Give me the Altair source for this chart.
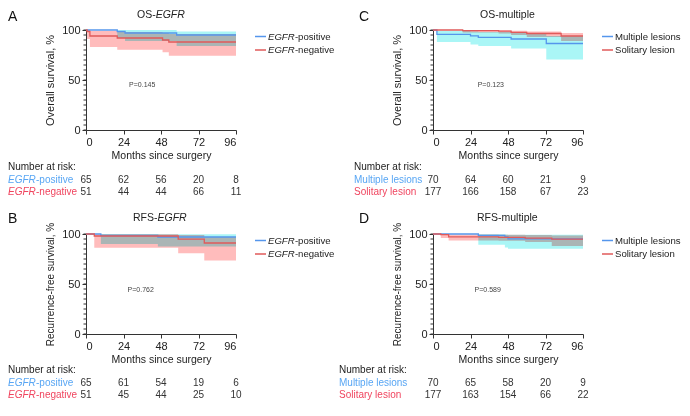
import altair as alt
import pandas as pd

FONT = "Liberation Sans"
BLUE = "#5596ec"
RED = "#e05a5a"
CYAN = "#aaf6f6"
PINK = "#ffbcbc"
LBLUE = "#58a6f4"
LRED = "#f0455f"
INK = "#222222"

months_ticks = [0, 24, 48, 72, 96]
y_major = [0, 50, 100]
y_minor = list(range(0, 101, 5))

# ---- Panel A: OS-EGFR ----
a_pos_t = [0, 20, 25, 58, 96]
a_pos_s = [100, 98.5, 97, 95, 95]
a_pos_lo = [100, 92, 89, 84, 84]
a_pos_hi = [100, 100, 100, 98.5, 98.5]
a_neg_t = [0, 0.7, 2.5, 20, 49, 53, 96]
a_neg_s = [100, 98.5, 94, 92, 90, 88, 88]
a_neg_lo = [100, 91, 83, 80.3, 77.7, 74.3, 74.3]
a_neg_hi = [100, 100, 99, 98, 97, 96, 96]
a_risk_pos = [65, 62, 56, 20, 8]
a_risk_neg = [51, 44, 44, 66, 11]

# ---- Panel C: OS-multiple ----
c_mul_t = [0, 2.5, 24, 29, 50, 72.5, 96]
c_mul_s = [100, 95.7, 94.2, 92.7, 91, 86.5, 86.5]
c_mul_lo = [100, 88, 85.5, 84, 81.5, 70.5, 70.5]
c_mul_hi = [100, 99, 98.5, 98, 97, 94, 94]
c_sol_t = [0, 19, 42, 50, 60, 82, 96]
c_sol_s = [100, 99.4, 98.8, 97.6, 96.5, 94, 94]
c_sol_lo = [100, 97.5, 96.5, 95, 93, 89, 89]
c_sol_hi = [100, 100, 99.7, 99.2, 98.5, 97, 97]
c_risk_mul = [70, 64, 60, 21, 9]
c_risk_sol = [177, 166, 158, 67, 23]

# ---- Panel B: RFS-EGFR ----
b_pos_t = [0, 9.5, 46, 96]
b_pos_s = [100, 98.5, 97, 97]
b_pos_lo = [100, 90, 87.5, 87.5]
b_pos_hi = [100, 100, 99.8, 99.8]
b_neg_t = [0, 5.3, 59, 75.7, 96]
b_neg_s = [100, 98, 94.8, 91, 91]
b_neg_lo = [100, 86.3, 80.8, 73.4, 73.4]
b_neg_hi = [100, 99.7, 99, 97, 97]
b_risk_pos = [65, 61, 54, 19, 6]
b_risk_neg = [51, 45, 44, 25, 10]

# ---- Panel D: RFS-multiple ----
d_mul_t = [0, 29, 46, 48, 96]
d_mul_s = [100, 98.6, 97, 95.2, 95.2]
d_mul_lo = [100, 89.3, 86.5, 85.3, 85.3]
d_mul_hi = [100, 99.8, 99.6, 99.3, 99.3]
d_sol_t = [0, 5, 10, 42, 59, 76, 96]
d_sol_s = [100, 99.4, 97.2, 96.6, 95.8, 94.8, 94.8]
d_sol_lo = [100, 96, 93.5, 93.3, 92, 88, 88]
d_sol_hi = [100, 100, 99.5, 99.2, 99, 98.5, 98.5]
d_risk_mul = [70, 65, 58, 20, 9]
d_risk_sol = [177, 163, 154, 66, 22]

p_values = ["P=0.145", "P=0.123", "P=0.762", "P=0.589"]
p_pos_t = [36, 37, 35, 35]
p_pos_s = [45, 45.5, 44, 44]

xs = alt.Scale(domain=[0, 96], nice=False, zero=False)
ys = alt.Scale(domain=[0, 100], nice=False, zero=False)
one = pd.DataFrame({"k": [0]})


def km_df(groups):
    rows = []
    for name, t, s, lo, hi in groups:
        for i in range(len(t)):
            rows.append({"g": name, "t": t[i], "s": s[i], "lo": lo[i], "hi": hi[i]})
    return pd.DataFrame(rows)


def txt(text, x, y, size=10, color=INK, italic=False, align="left", baseline="middle"):
    return alt.Chart(one).mark_text(
        text=text, align=align, baseline=baseline, fontSize=size, color=color,
        fontStyle="italic" if italic else "normal",
    ).encode(x=alt.value(x), y=alt.value(y))


def label(parts, x, y, color, size=10, scale=1.0):
    out = []
    cx = x
    for text, italic, w in parts:
        out.append(txt(text, cx, y, size=size, color=color, italic=italic))
        cx += w * scale
    return out


def panel(letter, letter_xy, title_parts, title_y, ytitle, ytsize, groups, names,
          risk1, risk2, lab1, lab2, risk_x, risk_ys, pidx, top=False):
    df = km_df(groups)
    xaxis = alt.Axis(values=months_ticks, title="Months since surgery", tickSize=4,
                     labelPadding=2, titlePadding=3, format="d", titleFontSize=10.5)
    yaxis = alt.Axis(values=y_major, title=ytitle, tickSize=4, labelPadding=2,
                     titlePadding=6, titleFontSize=ytsize)
    X = lambda f: alt.X(f, scale=xs, axis=xaxis)
    Y = lambda f: alt.Y(f, scale=ys, axis=yaxis)
    band = alt.Chart(df).mark_area(interpolate="step-after", blend="multiply", opacity=1).encode(
        x=X("t:Q"), y=Y("lo:Q"), y2="hi:Q",
        fill=alt.Fill("g:N", scale=alt.Scale(domain=names, range=[CYAN, PINK]), legend=None),
    )
    lines = alt.Chart(df).mark_line(interpolate="step-after", strokeWidth=1.3).encode(
        x=X("t:Q"), y=Y("s:Q"),
        stroke=alt.Stroke("g:N", scale=alt.Scale(domain=names, range=[BLUE, RED]), legend=None),
    )
    minor = alt.Chart(pd.DataFrame({"s": y_minor})).mark_rule(color="#333", strokeWidth=1).encode(
        y=Y("s:Q"), x=alt.value(-2.5), x2=alt.value(0)
    )
    pv = alt.Chart(pd.DataFrame({"t": [p_pos_t[pidx]], "s": [p_pos_s[pidx]], "p": [p_values[pidx]]})).mark_text(
        fontSize=7, color="#444"
    ).encode(x=X("t:Q"), y=Y("s:Q"), text="p:N")

    layers = [band, lines, minor, pv]
    if top:
        # invisible spacer keeping headroom above the panel letters and titles
        layers.append(alt.Chart(one).mark_rule(strokeOpacity=0, strokeWidth=1).encode(
            x=alt.value(0), x2=alt.value(1), y=alt.value(-22)))
    layers.append(txt(letter, letter_xy[0], letter_xy[1], size=14, color="#111"))
    cx = title_parts[0][3]
    for text, italic, w, _ in title_parts:
        layers.append(txt(text, cx, title_y, size=10.5, italic=italic))
        cx += w
    for i, (lab, col) in enumerate([(lab1, BLUE), (lab2, RED)]):
        yy = [6.5, 20][i]
        layers.append(alt.Chart(one).mark_rule(color=col, strokeWidth=1.5).encode(
            x=alt.value(169), x2=alt.value(180), y=alt.value(yy)))
        layers += label(lab, 182, yy, INK, size=9.6, scale=0.96)
    layers.append(txt("Number at risk:", risk_x, risk_ys[0], size=10))
    layers += label(lab1, risk_x, risk_ys[1], LBLUE, size=10)
    layers += label(lab2, risk_x, risk_ys[2], LRED, size=10)
    for vals, yy in [(risk1, risk_ys[1]), (risk2, risk_ys[2])]:
        layers.append(alt.Chart(pd.DataFrame({"t": months_ticks, "n": vals})).mark_text(
            fontSize=10, color="#333", baseline="middle").encode(
            x=X("t:Q"), y=alt.value(yy), text="n:Q"))
    return alt.layer(*layers).properties(width=150, height=100)


egfr_pos = [("EGFR", True, 28), ("-positive", False, 0)]
egfr_neg = [("EGFR", True, 28), ("-negative", False, 0)]
mult = [("Multiple lesions", False, 0)]
soli = [("Solitary lesion", False, 0)]

A = panel("A", (-78, -13), [("OS-", False, 18.7, 51), ("EGFR", True, 0, 51)], -15,
          "Overall survival, %", 11,
          [("pos", a_pos_t, a_pos_s, a_pos_lo, a_pos_hi), ("neg", a_neg_t, a_neg_s, a_neg_lo, a_neg_hi)],
          ["pos", "neg"], a_risk_pos, a_risk_neg, egfr_pos, egfr_neg, -78, [137, 150, 162], 0, top=True)
C = panel("C", (-74, -13), [("OS-multiple", False, 0, 47)], -15,
          "Overall survival, %", 11,
          [("mul", c_mul_t, c_mul_s, c_mul_lo, c_mul_hi), ("sol", c_sol_t, c_sol_s, c_sol_lo, c_sol_hi)],
          ["mul", "sol"], c_risk_mul, c_risk_sol, mult, soli, -79, [137, 150, 162], 1, top=True)
B = panel("B", (-78, -15), [("RFS-", False, 24.5, 47), ("EGFR", True, 0, 47)], -16,
          "Recurrence-free survival, %", 10,
          [("pos", b_pos_t, b_pos_s, b_pos_lo, b_pos_hi), ("neg", b_neg_t, b_neg_s, b_neg_lo, b_neg_hi)],
          ["pos", "neg"], b_risk_pos, b_risk_neg, egfr_pos, egfr_neg, -78, [136, 149, 161], 2)
D = panel("D", (-74, -15), [("RFS-multiple", False, 0, 44)], -16,
          "Recurrence-free survival, %", 10,
          [("mul", d_mul_t, d_mul_s, d_mul_lo, d_mul_hi), ("sol", d_sol_t, d_sol_s, d_sol_lo, d_sol_hi)],
          ["mul", "sol"], d_risk_mul, d_risk_sol, mult, soli, -94, [136, 149, 161], 3)

chart = alt.concat(A, C, B, D, columns=2, spacing={"row": 104, "column": 197}, bounds="flush").properties(
    padding=0
).configure(font=FONT).configure_view(stroke=None).configure_axis(
    grid=False, domainColor="#333", tickColor="#333", labelColor=INK, titleColor=INK,
    labelFontSize=11, titleFontSize=10.5, titleFontWeight="normal", labelFont=FONT, titleFont=FONT,
)

chart.save("out.html", embed_options={"renderer": "svg", "actions": False})
